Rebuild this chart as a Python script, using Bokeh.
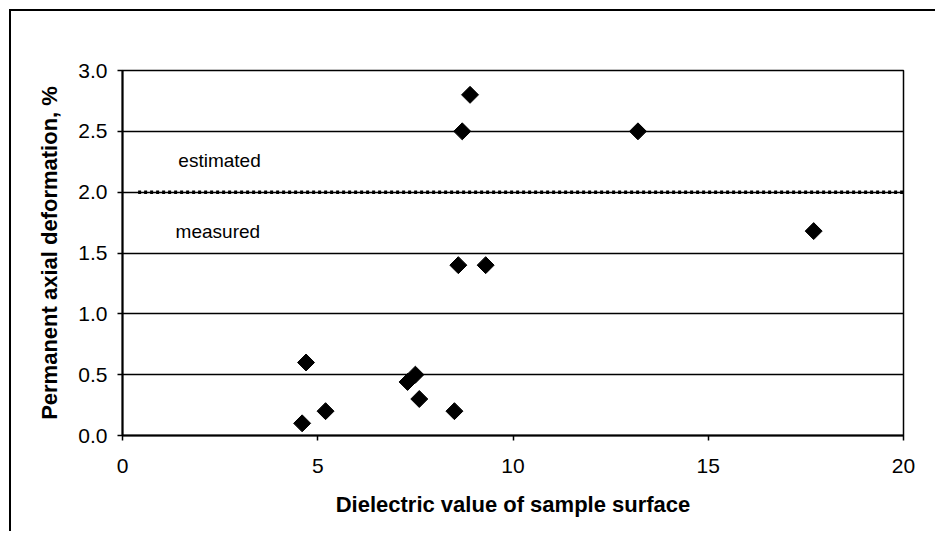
import numpy as np
from bokeh.plotting import figure
from bokeh.models import SingleIntervalTicker, NumeralTickFormatter, ColumnDataSource
from bokeh.core.properties import value
from bokeh.embed import file_html
from bokeh.resources import INLINE

# Measured samples: dielectric value vs permanent axial deformation
dielectric = [4.6, 4.7, 5.2, 7.3, 7.5, 7.6, 8.5, 8.6, 9.3, 8.7, 8.9, 13.2, 17.7]
deformation = [0.1, 0.6, 0.2, 0.44, 0.5, 0.3, 0.2, 1.4, 1.4, 2.5, 2.8, 2.5, 1.68]

# Boundary between measured and estimated deformation
boundary_x = [0.4, 20.0]
boundary_y = [2.0, 2.0]

region_labels = ["estimated", "measured"]
region_label_x = [1.43, 1.36]
region_label_y = [2.26, 1.68]

FONT = "Liberation Sans"

p = figure(
    width=926, height=522,
    x_range=(0, 20), y_range=(0, 3),
    output_backend="svg", toolbar_location=None,
    min_border_left=111, min_border_top=59,
    min_border_right=34, min_border_bottom=98,
    background_fill_color="white", border_fill_color="white",
)
p.margin = (9, 0, 0, 9)
p.styles = {"border-left": "2px solid black", "border-top": "2px solid black"}

p.outline_line_color = "black"
p.outline_line_width = 1.5

# axes
p.xaxis.ticker = SingleIntervalTicker(interval=5)
p.yaxis.ticker = SingleIntervalTicker(interval=0.5)
p.yaxis.formatter = NumeralTickFormatter(format="0.0")
for ax in (p.xaxis[0], p.yaxis[0]):
    ax.axis_line_color = "black"
    ax.axis_line_width = 2
    ax.major_tick_line_color = "black"
    ax.major_tick_line_width = 1.5
    ax.major_tick_out = 5
    ax.major_tick_in = 0
    ax.minor_tick_line_color = None
    ax.major_label_text_font = FONT
    ax.major_label_text_font_size = "21px"
    ax.major_label_text_color = "black"
    ax.axis_label_text_font = FONT
    ax.axis_label_text_font_size = "22px"
    ax.axis_label_text_font_style = "bold"
    ax.axis_label_text_color = "black"

p.xaxis.axis_label = "Dielectric value of sample surface"
p.yaxis.axis_label = "Permanent axial deformation, %"
p.xaxis.major_label_standoff = 18
p.yaxis.major_label_standoff = 10
p.xaxis.axis_label_standoff = 16
p.yaxis.axis_label_standoff = 13

# grid: horizontal lines only
p.xgrid.grid_line_color = None
p.ygrid.grid_line_color = "black"
p.ygrid.grid_line_width = 1.5
p.ygrid.grid_line_alpha = 1.0

# dotted boundary line
p.line(boundary_x, boundary_y, line_color="black", line_width=3.5, line_dash="3 3")

# region labels
lbl = ColumnDataSource(dict(x=region_label_x, y=region_label_y, t=region_labels))
p.text(x="x", y="y", text="t", source=lbl, text_font=value(FONT),
       text_font_size="19px", text_color="black",
       text_align="left", text_baseline="middle")

# data points as diamonds
src = ColumnDataSource(dict(x=dielectric, y=deformation))
p.scatter(x="x", y="y", source=src, marker="square", angle=np.pi / 4,
          size=12, fill_color="black", line_color="black")

open("out.html", "w").write(file_html(p, INLINE))
